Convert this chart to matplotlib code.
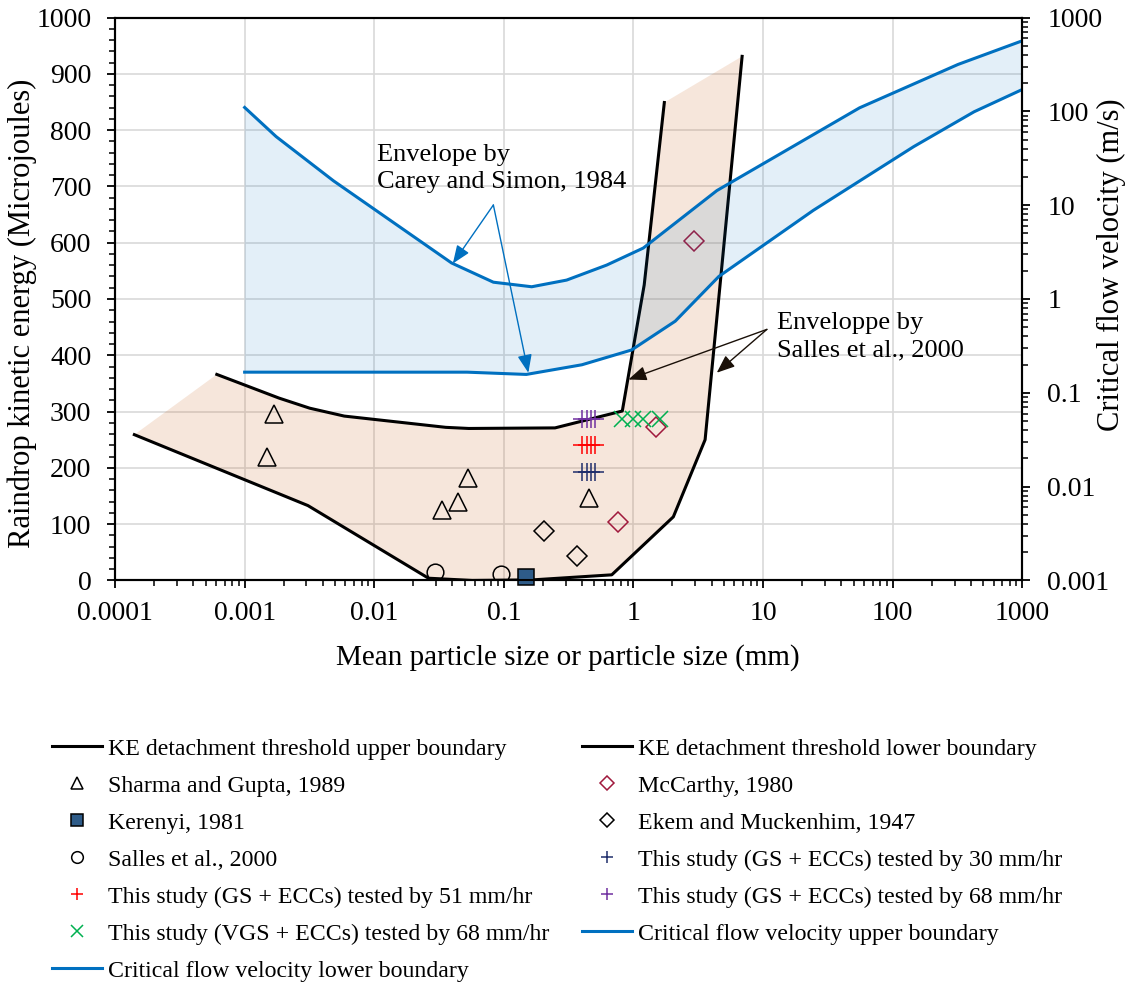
import numpy as np
import matplotlib.pyplot as plt
from matplotlib.ticker import MultipleLocator, LogLocator, NullFormatter

plt.rcParams['font.family'] = ['Liberation Serif', 'DejaVu Serif']

# KE detachment threshold envelope (left axis, Microjoules)
ke_up_x = [0.00061, 0.00184, 0.00318, 0.00587, 0.0356, 0.0536, 0.248, 0.82, 1.21, 1.73]
ke_up_y = [366, 324, 306, 292, 272, 270, 271, 301, 525, 849]
ke_lo_x = [0.000141, 0.00308, 0.0262, 0.057, 0.166, 0.68, 2.03, 3.57, 6.89]
ke_lo_y = [259, 133, 4, 0, 1, 10, 113, 250, 931]

# critical flow velocity envelope (right axis, m/s)
cfv_up_x = [0.001, 0.00175, 0.00484, 0.0395, 0.083, 0.164, 0.305, 0.622, 1.19, 4.4, 55.5, 319, 1000]
cfv_up_y = [110, 53.8, 18.2, 2.42, 1.51, 1.35, 1.59, 2.30, 3.49, 14.3, 109, 316, 565]
cfv_lo_x = [0.001, 0.052, 0.149, 0.40, 0.967, 2.1, 4.56, 24.4, 145, 425, 1000]
cfv_lo_y = [0.166, 0.166, 0.157, 0.199, 0.286, 0.58, 1.74, 8.8, 42, 99, 171]

# literature points
sharma_x = [0.00148, 0.00169, 0.0333, 0.0443, 0.0525, 0.457]
sharma_y = [220, 296, 126, 140, 182, 147]
kerenyi_x = [0.147]
kerenyi_y = [6]
salles_x = [0.0292, 0.0955]
salles_y = [15, 11]
mccarthy_x = [0.755, 1.5, 2.93]
mccarthy_y = [103, 272, 603]
ekem_x = [0.204, 0.368]
ekem_y = [88, 44]

# this study
gs_x = [0.40, 0.435, 0.47, 0.505]
gs30_y = [193, 193, 193, 193]
gs51_y = [241, 241, 241, 241]
gs68_y = [286, 286, 286, 286]
vgs_x = [0.81, 0.985, 1.18, 1.6]
vgs_y = [287, 287, 287, 287]

x_ticks = [0.0001, 0.001, 0.01, 0.1, 1, 10, 100, 1000]
x_labels = ['0.0001', '0.001', '0.01', '0.1', '1', '10', '100', '1000']
v_ticks = [0.001, 0.01, 0.1, 1, 10, 100, 1000]
v_labels = ['0.001', '0.01', '0.1', '1', '10', '100', '1000']

blue = '#0070C0'

fig = plt.figure(figsize=(11.31, 9.84), dpi=100)
ax = fig.add_axes([0.1017, 0.4101, 0.8022, 0.5721])
ax2 = ax.twinx()

ax.set_xscale('log')
ax.set_xlim(1e-4, 1e3)
ax.set_ylim(0, 1000)
ax2.set_yscale('log')
ax2.set_ylim(1e-3, 1e3)

# KE envelope
px = ke_up_x + ke_lo_x[::-1]
py = ke_up_y + ke_lo_y[::-1]
ax.fill(px, py, color='#C55A11', alpha=0.15, lw=0, zorder=1)
l_up, = ax.plot(ke_up_x, ke_up_y, color='black', lw=2.2, zorder=3)
l_lo, = ax.plot(ke_lo_x, ke_lo_y, color='black', lw=2.2, zorder=3)

# markers
h_sh, = ax.plot(sharma_x, sharma_y, ls='none', marker='^', ms=12.5, mfc='none', mec='black', mew=1.1, zorder=4)
h_ke, = ax.plot(kerenyi_x, kerenyi_y, ls='none', marker='s', ms=12, mfc='#2E5B88', mec='black', mew=1.1, zorder=4, clip_on=False)
h_sa, = ax.plot(salles_x, salles_y, ls='none', marker='o', ms=12, mfc='none', mec='black', mew=1.1, zorder=4)
h_mc, = ax.plot(mccarthy_x, mccarthy_y, ls='none', marker='D', ms=10.5, mfc='none', mec='#A0193C', mew=1.1, zorder=4)
h_ek, = ax.plot(ekem_x, ekem_y, ls='none', marker='D', ms=10.5, mfc='none', mec='black', mew=1.1, zorder=4)
h_30, = ax.plot(gs_x, gs30_y, ls='none', marker='+', ms=13, mec='#1F2D6B', mew=1.1, zorder=4)
h_51, = ax.plot(gs_x, gs51_y, ls='none', marker='+', ms=13, mec='#FF0000', mew=1.1, zorder=4)
h_68, = ax.plot(gs_x, gs68_y, ls='none', marker='+', ms=13, mec='#7030A0', mew=1.1, zorder=4)
h_vg, = ax.plot(vgs_x, vgs_y, ls='none', marker='x', ms=12, mec='#00B050', mew=1.1, zorder=4)

# critical flow velocity envelope
bx = cfv_up_x + cfv_lo_x[::-1]
by = cfv_up_y + cfv_lo_y[::-1]
ax2.fill(bx, by, color=blue, alpha=0.11, lw=0)
c_up, = ax2.plot(cfv_up_x, cfv_up_y, color=blue, lw=2.2)
c_lo, = ax2.plot(cfv_lo_x, cfv_lo_y, color=blue, lw=2.2)

# annotations
ax.text(0.0105, 775, 'Envelope by\nCarey and Simon, 1984', fontsize=19, va='top', ha='left',
        linespacing=1.3, zorder=6)
for tip in [(0.0404, 563), (0.1545, 369)]:
    ax.annotate('', xy=tip, xytext=(0.083, 667),
                arrowprops=dict(arrowstyle='-|>,head_length=0.55,head_width=0.22', color=blue,
                                lw=1.0, mutation_scale=20, shrinkA=0, shrinkB=0), zorder=6)
ax.text(12.8, 476, 'Enveloppe by\nSalles et al., 2000', fontsize=19, va='top', ha='left',
        linespacing=1.3, zorder=6)
for tip in [(0.914, 357), (4.39, 369)]:
    ax.annotate('', xy=tip, xytext=(10.7, 446),
                arrowprops=dict(arrowstyle='-|>,head_length=0.55,head_width=0.22', color='#1A1008',
                                lw=1.0, mutation_scale=20, shrinkA=0, shrinkB=0), zorder=6)

# axes styling
ax.set_xticks(x_ticks, x_labels)
ax.xaxis.set_minor_locator(LogLocator(base=10, subs=np.arange(2, 10)))
ax.xaxis.set_minor_formatter(NullFormatter())
ax.yaxis.set_major_locator(MultipleLocator(100))
ax.yaxis.set_minor_locator(MultipleLocator(20))
ax2.set_yticks(v_ticks, v_labels)
ax2.yaxis.set_minor_locator(LogLocator(base=10, subs=np.arange(2, 10)))
ax2.yaxis.set_minor_formatter(NullFormatter())

ax.grid(True, which='major', color='#D9D9D9', lw=1.2)
ax.set_axisbelow(True)
for a in (ax, ax2):
    for s in a.spines.values():
        s.set_linewidth(1.5)
ax.tick_params(which='major', direction='out', length=6, width=1.3, labelsize=20, top=False)
ax.tick_params(axis='x', which='major', pad=9)
ax.tick_params(axis='y', which='major', pad=11)
ax.tick_params(which='minor', direction='out', length=4, width=1.1, top=False)
ax2.tick_params(which='major', direction='out', length=6, width=1.3, labelsize=20, pad=12)
ax2.tick_params(which='minor', direction='out', length=4, width=1.1)

fig.text(0.502, 0.3313, 'Mean particle size or particle size (mm)', fontsize=21, ha='center', va='center')
fig.text(0.0195, 0.682, 'Raindrop kinetic energy (Microjoules)', fontsize=22, rotation=90,
         ha='center', va='center')
fig.text(0.983, 0.7307, 'Critical flow velocity (m/s)', fontsize=22, rotation=90,
         ha='center', va='center')

# legend in two columns, rows ordered as in the original
col1 = [(l_up, 'KE detachment threshold upper boundary'),
        (h_sh, 'Sharma and Gupta, 1989'),
        (h_ke, 'Kerenyi, 1981'),
        (h_sa, 'Salles et al., 2000'),
        (h_51, 'This study (GS + ECCs) tested by 51 mm/hr'),
        (h_vg, 'This study (VGS + ECCs) tested by 68 mm/hr'),
        (c_lo, 'Critical flow velocity lower boundary')]
col2 = [(l_lo, 'KE detachment threshold lower boundary'),
        (h_mc, 'McCarthy, 1980'),
        (h_ek, 'Ekem and Muckenhim, 1947'),
        (h_30, 'This study (GS + ECCs) tested by 30 mm/hr'),
        (h_68, 'This study (GS + ECCs) tested by 68 mm/hr'),
        (c_up, 'Critical flow velocity upper boundary')]
kw = dict(loc='upper left', frameon=False, fontsize=17.2, handlelength=2.1, handletextpad=0.25,
          labelspacing=0.64, borderaxespad=0, borderpad=0, markerscale=0.7)
leg1 = fig.legend([h for h, _ in col1], [t for _, t in col1], bbox_to_anchor=(0.046, 0.250), **kw)
leg2 = fig.legend([h for h, _ in col2], [t for _, t in col2], bbox_to_anchor=(0.5146, 0.250), **kw)

fig.savefig('out.png', dpi=100)
